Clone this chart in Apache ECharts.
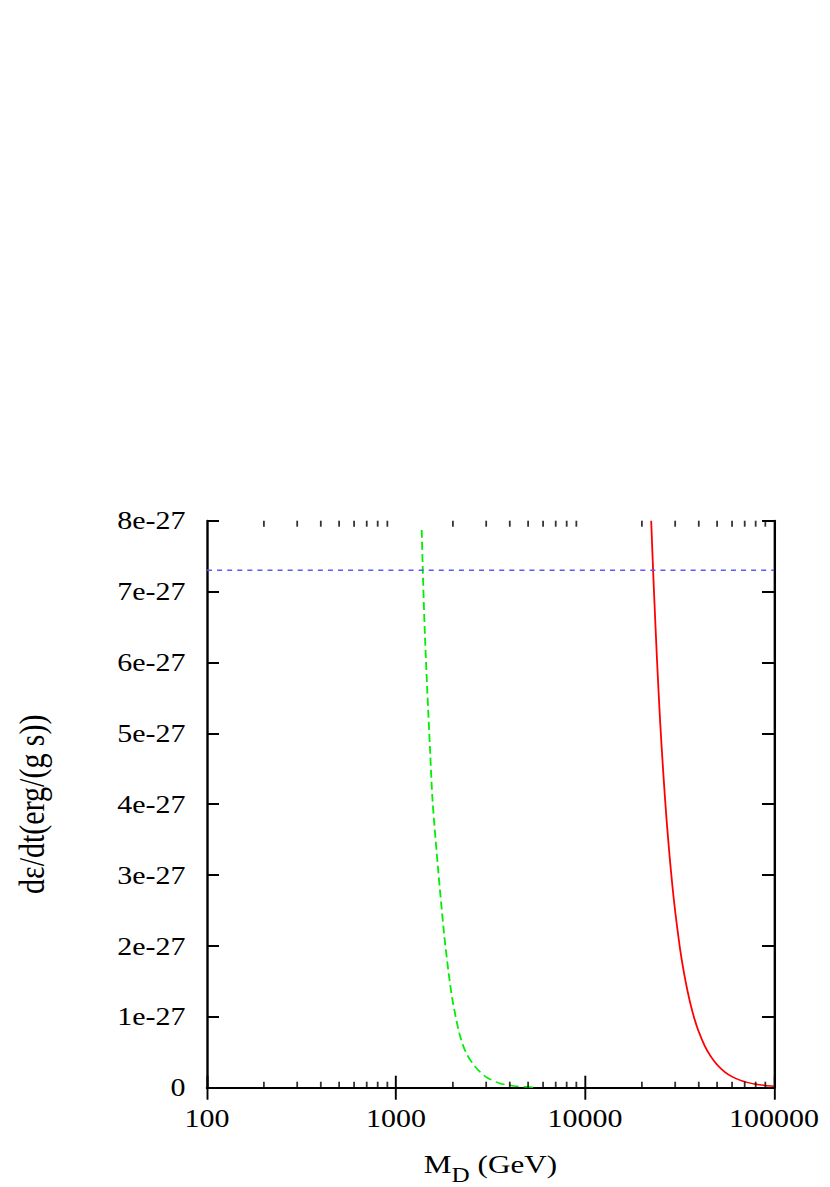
<!DOCTYPE html>
<html>
<head>
<meta charset="utf-8">
<script src="https://cdn.jsdelivr.net/npm/echarts@6/dist/echarts.min.js"></script>
<style>
  html, body { margin: 0; padding: 0; background: #fff; overflow: hidden; }
  #c { width: 692px; height: 1187px; transform: scaleX(1.19942); transform-origin: 0 0; }
</style>
</head>
<body>
<div id="c"></div>
<script>
// Values of the y quantity are in units of 1e-27 erg/(g s)
const xTickLabels = ['100', '1000', '10000', '100000'];
const yTickLabels = ['0', '1e-27', '2e-27', '3e-27', '4e-27', '5e-27', '6e-27', '7e-27', '8e-27'];
const minorTickPositions = [200, 300, 400, 500, 600, 700, 800, 900,
  2000, 3000, 4000, 5000, 6000, 7000, 8000, 9000,
  20000, 30000, 40000, 50000, 60000, 70000, 80000, 90000];

const greenCurve = [
  [1368, 7.87], [1385, 7.33], [1417, 6.5], [1461, 5.65], [1517, 4.72], [1560, 4.06],
  [1667, 3.11], [1795, 2.18], [1903, 1.6], [1991, 1.235], [2163, 0.77], [2341, 0.5],
  [2634, 0.29], [3004, 0.15], [3550, 0.06], [4211, 0.025], [5055, 0.01], [5572, 0.006]
];
const redCurve = [
  [22400, 8.0], [23000, 7.21], [24000, 6.08], [25000, 5.15], [26000, 4.41], [27000, 3.79],
  [28000, 3.28], [29000, 2.85], [30000, 2.49], [32000, 1.92], [34000, 1.51], [36000, 1.20],
  [38000, 0.966], [40000, 0.788], [43000, 0.59], [46000, 0.452], [50000, 0.323], [55000, 0.22],
  [60000, 0.155], [66000, 0.106], [72000, 0.075], [80000, 0.049], [90000, 0.031], [100000, 0.020]
];
const blueLevel = [[100, 7.3], [100000, 7.3]];

const chart = echarts.init(document.getElementById('c'), null, { renderer: 'svg' });
const FONT = 'Liberation Serif';

const tickData = (yv) => minorTickPositions.map(x => [x, yv]);

chart.setOption({
  animation: false,
  backgroundColor: '#ffffff',
  grid: { left: 172.6, right: 46.7, top: 520.7, bottom: 99.3, containLabel: false, outerBoundsMode: 'none' },
  xAxis: [
    {
      type: 'log', logBase: 10, min: 100, max: 100000, position: 'bottom',
      axisLine: { show: true, lineStyle: { color: '#000', width: 2 } },
      axisTick: { show: true, inside: true, length: 12, lineStyle: { color: '#000', width: 1.6 } },
      splitLine: { show: false },
      minorTick: { show: false },
      axisLabel: {
        margin: 18, color: '#000', fontFamily: FONT, fontSize: 25,
        formatter: v => xTickLabels[Math.round(Math.log10(v)) - 2]
      },
      name: '{m|M}{s|D}{m| (GeV)}',
      nameLocation: 'middle', nameGap: 54,
      nameTextStyle: {
        rich: {
          m: { fontFamily: FONT, fontSize: 26, color: '#000', lineHeight: 44, verticalAlign: 'middle' },
          s: { fontFamily: FONT, fontSize: 21, color: '#000', lineHeight: 21, verticalAlign: 'bottom' }
        }
      }
    },
    {
      type: 'log', logBase: 10, min: 100, max: 100000, position: 'top',
      axisLine: { show: true, lineStyle: { color: '#000', width: 2 } },
      axisTick: { show: true, inside: true, length: 12, lineStyle: { color: '#000', width: 1.6 } },
      axisLabel: { show: false },
      splitLine: { show: false }
    }
  ],
  yAxis: [
    {
      type: 'value', min: 0, max: 8, interval: 1, position: 'left',
      axisLine: { show: true, lineStyle: { color: '#000', width: 2 } },
      axisTick: { show: true, inside: true, length: 10, lineStyle: { color: '#000', width: 2 } },
      splitLine: { show: false },
      axisLabel: {
        margin: 18, color: '#000', fontFamily: FONT, fontSize: 25,
        formatter: v => yTickLabels[Math.round(v)]
      },
      name: 'dε/dt(erg/(g s))',
      nameLocation: 'middle', nameGap: 131, nameRotate: 90,
      nameTextStyle: { fontFamily: FONT, fontSize: 30, color: '#000' }
    },
    {
      type: 'value', min: 0, max: 8, interval: 1, position: 'right',
      axisLine: { show: true, lineStyle: { color: '#000', width: 2 } },
      axisTick: { show: true, inside: true, length: 10, lineStyle: { color: '#000', width: 2 } },
      axisLabel: { show: false },
      splitLine: { show: false }
    }
  ],
  series: [
    {
      type: 'line', data: redCurve, xAxisIndex: 0, yAxisIndex: 0,
      showSymbol: false, smooth: 0.25,
      lineStyle: { color: '#ff0000', width: 1.5, type: 'solid' }, z: 3
    },
    {
      type: 'line', data: greenCurve, xAxisIndex: 0, yAxisIndex: 0,
      showSymbol: false, smooth: 0.3,
      lineStyle: { color: '#00ee00', width: 1.5, type: [8, 4] }, z: 3
    },
    {
      type: 'line', data: blueLevel, xAxisIndex: 0, yAxisIndex: 0,
      showSymbol: false,
      lineStyle: { color: '#5a5aff', width: 1.5, type: [4.2, 4.2] }, z: 4
    },
    {
      type: 'scatter', data: tickData(0), xAxisIndex: 0, yAxisIndex: 0,
      symbol: 'rect', symbolSize: [1.5, 6], symbolOffset: [0, -3], clip: false,
      itemStyle: { color: '#000' }, silent: true, z: 5
    },
    {
      type: 'scatter', data: tickData(8), xAxisIndex: 0, yAxisIndex: 0,
      symbol: 'rect', symbolSize: [1.5, 6], symbolOffset: [0, 3], clip: false,
      itemStyle: { color: '#000' }, silent: true, z: 5
    }
  ]
});
</script>
</body>
</html>
